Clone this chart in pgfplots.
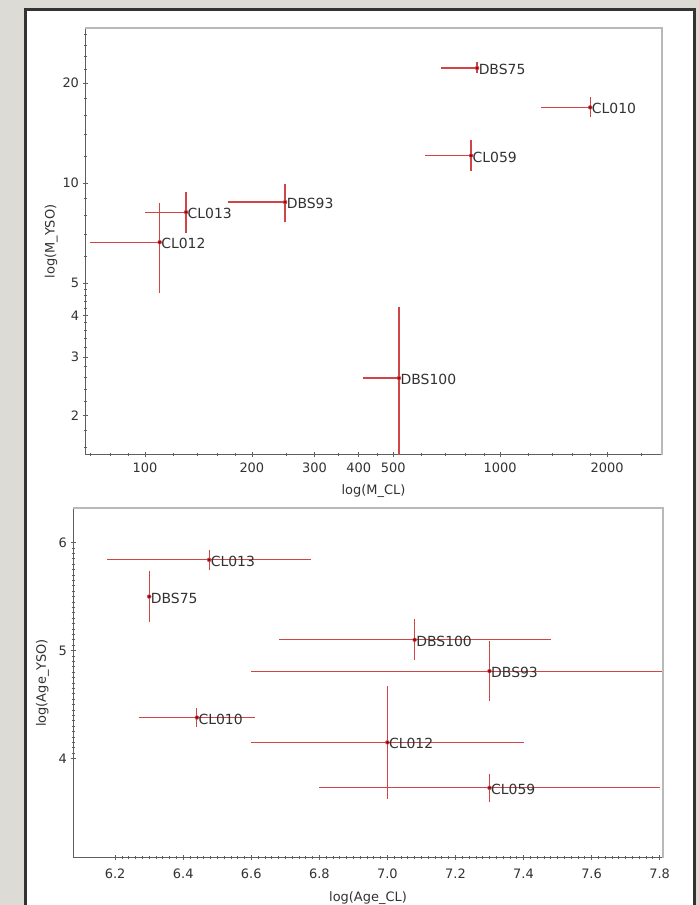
\documentclass[border=0pt]{standalone}
\usepackage{pgfplots}
\pgfplotsset{compat=1.18}
\usepackage{pgfplotstable}
\usepackage{fontspec}
\setmainfont{DejaVu Sans}

\definecolor{bgc}{RGB}{221,219,214}
\definecolor{barred}{RGB}{208,70,70}
\definecolor{ptred}{RGB}{150,0,20}
\definecolor{axdark}{RGB}{95,95,95}
\definecolor{axlight}{RGB}{185,185,185}
\definecolor{txt}{RGB}{50,50,50}

% top panel: M_CL vs M_YSO (x error: minus only)
\pgfplotstableread{
name   x     y     xm    ym    yp
DBS75  861   22.2  179   0.8   0.9
CL010  1793  16.9  489   1.1   1.3
CL059  828   12.1  213   1.2   1.4
DBS93  248   8.77  77    1.14  1.16
CL013  130.5 8.18  30.5  1.11  1.21
CL012  110   6.64  40    1.98  2.06
DBS100 519   2.59  108   1.29  1.64
}\topdata

% bottom panel: Age_CL vs Age_YSO
\pgfplotstableread{
name   x     y     ex    ey
CL013  6.476 5.84  0.30  0.09
DBS75  6.30  5.50  0.00  0.24
DBS100 7.08  5.10  0.40  0.19
DBS93  7.30  4.81  0.70  0.28
CL010  6.44  4.38  0.17  0.09
CL012  7.00  4.15  0.40  0.52
CL059  7.30  3.73  0.50  0.13
}\botdata

\pgfplotsset{
  mystyle/.style={
    scale only axis,
    axis x line=bottom, axis y line=left,
    axis line style={-, axdark, line width=1bp},
    tick style={axdark, line width=0.7bp},
    major tick length=5bp, minor tick length=3bp,
    tick align=center,
    ticklabel style={font=\fontsize{13}{15}\selectfont, text=txt},
    label style={font=\fontsize{13}{15}\selectfont, text=txt},
    xticklabel style={yshift=-2bp},
  },
  errstyle/.style={color=barred, only marks, mark=none, forget plot,
    error bars/error mark=none,
    error bars/error bar style={color=barred, line width=1.2bp}},
  lblstyle/.style={only marks, mark=*, mark size=1.2bp, color=ptred,
    nodes near coords={\pgfplotspointmeta},
    point meta=explicit symbolic,
    every node near coord/.append style={anchor=west, font=\fontsize{14}{16}\selectfont, text=txt, inner sep=1.5bp, yshift=-1.5bp}},
}

\begin{document}
\begin{tikzpicture}[x=1bp,y=1bp]
\useasboundingbox (0,0) rectangle (699,905);
\clip (0,0) rectangle (699,905);
\fill[bgc] (0,0) rectangle (699,905);
\draw[fill=white, draw=black!80, line width=3bp] (25.5,-10) rectangle (694.5,895);

\begin{axis}[mystyle, name=top,
  at={(85bp,450bp)}, anchor=south west,
  width=577bp, height=427bp,
  xmode=log, ymode=log,
  xmin=67.8, xmax=2856, ymin=1.52, ymax=29.3,
  xtick={100,200,300,400,500,1000,2000},
  xticklabels={100,200,300,400,500,1000,2000},
  minor xtick={70,80,90,120,140,160,180,250,350,450,600,700,800,900,1200,1400,1600,1800,2500},
  ytick={2,3,4,5,10,20},
  yticklabels={2,3,4,5,10,20},
  minor ytick={1.6,1.8,2.2,2.4,2.6,2.8,3.2,3.4,3.6,3.8,4.2,4.4,4.6,4.8,6,7,8,9,12,14,16,18,22,24,26,28},
  xlabel={log(M\_CL)}, ylabel={log(M\_YSO)},
  xlabel style={yshift=-5bp}, ylabel style={yshift=-2bp},
]
\addplot[errstyle,
  error bars/.cd, x dir=minus, x explicit, y dir=both, y explicit]
  table[x=x, y=y, x error minus=xm, y error minus=ym, y error plus=yp] {\topdata};
\addplot[lblstyle] table[x=x, y=y, meta=name] {\topdata};
\end{axis}
\draw[axlight, line width=1.6bp] (top.north west) -- (top.north east) -- (top.south east);

\begin{axis}[mystyle, name=bot,
  at={(73bp,47bp)}, anchor=south west,
  width=590bp, height=350bp,
  xmin=6.076, xmax=7.81, ymin=3.08, ymax=6.32,
  xtick={6.2,6.4,6.6,6.8,7.0,7.2,7.4,7.6,7.8},
  xticklabels={6.2,6.4,6.6,6.8,7.0,7.2,7.4,7.6,7.8},
  ytick={4,5,6}, yticklabels={4,5,6},
  minor x tick num=9, minor y tick num=19,
  xlabel={log(Age\_CL)}, ylabel={log(Age\_YSO)},
  xlabel style={yshift=-6bp}, xticklabel style={yshift=-3bp}, ylabel style={yshift=3bp},
]
\addplot[errstyle,
  error bars/.cd, x dir=both, x explicit, y dir=both, y explicit]
  table[x=x, y=y, x error=ex, y error=ey] {\botdata};
\addplot[lblstyle] table[x=x, y=y, meta=name] {\botdata};
\end{axis}
\draw[axlight, line width=1.6bp] (bot.north west) -- (bot.north east) -- (bot.south east);
\end{tikzpicture}
\end{document}
